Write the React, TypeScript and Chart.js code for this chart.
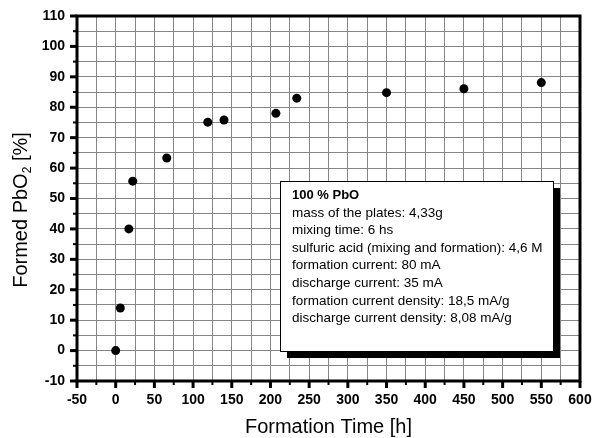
import React, { useEffect, useRef } from "react";
import { Chart, registerables } from "chart.js";

Chart.register(...registerables);

const formationTime: number[] = [0, 6, 17, 22, 66, 119, 140, 207, 234, 350, 450, 550];
const formedPbO2: number[] = [0, 14, 40, 55.7, 63.3, 75.1, 75.8, 78, 83, 84.8, 86.1, 88.1];

const xTickRange = { min: -50, max: 600, minorStep: 25, majorStep: 50 };
const yTickRange = { min: -10, max: 110, minorStep: 5, majorStep: 10 };

const xTitle = "Formation Time [h]";
const yTitleMain = "Formed PbO";
const yTitleSub = "2";
const yTitleTail = " [%]";

const legendTitle = "100 % PbO";
const legendLines: string[] = [
  "mass of the plates: 4,33g",
  "mixing time: 6 hs",
  "sulfuric acid (mixing and formation): 4,6 M",
  "formation current: 80 mA",
  "discharge current: 35 mA",
  "formation current density: 18,5 mA/g",
  "discharge current density: 8,08 mA/g",
];

const FONT = "Arial, 'Liberation Sans', Helvetica, sans-serif";

const decorPlugin = {
  id: "decor",
  afterDraw(chart: any) {
    const ctx: CanvasRenderingContext2D = chart.ctx;
    const { left, right, top, bottom } = chart.chartArea;
    const xs = chart.scales.x;
    const ys = chart.scales.y;
    ctx.save();
    ctx.strokeStyle = "#000";
    ctx.lineCap = "butt";

    // ticks
    for (let v = yTickRange.min; v <= yTickRange.max; v += yTickRange.minorStep) {
      const major = v % yTickRange.majorStep === 0;
      const py = ys.getPixelForValue(v);
      ctx.lineWidth = major ? 3 : 2;
      ctx.beginPath();
      ctx.moveTo(left - (major ? 7 : 4), py);
      ctx.lineTo(left, py);
      ctx.stroke();
    }
    for (let v = xTickRange.min; v <= xTickRange.max; v += xTickRange.minorStep) {
      const major = v % xTickRange.majorStep === 0;
      const px = xs.getPixelForValue(v);
      ctx.lineWidth = major ? 3 : 2;
      ctx.beginPath();
      ctx.moveTo(px, bottom);
      ctx.lineTo(px, bottom + (major ? 7 : 4));
      ctx.stroke();
    }

    // border
    ctx.lineWidth = 3;
    ctx.strokeRect(left, top, right - left, bottom - top);

    // x title
    ctx.fillStyle = "#000";
    ctx.font = `20px ${FONT}`;
    ctx.textAlign = "center";
    ctx.textBaseline = "alphabetic";
    ctx.fillText(xTitle, (left + right) / 2, 433);

    // y title with subscript
    ctx.save();
    ctx.translate(27, 210);
    ctx.rotate(-Math.PI / 2);
    ctx.textAlign = "left";
    ctx.font = `20px ${FONT}`;
    const w1 = ctx.measureText(yTitleMain).width;
    const w3 = ctx.measureText(yTitleTail).width;
    ctx.font = `12px ${FONT}`;
    const w2 = ctx.measureText(yTitleSub).width;
    const total = w1 + w2 + w3;
    let cx = -total / 2;
    ctx.font = `20px ${FONT}`;
    ctx.fillText(yTitleMain, cx, 0);
    cx += w1;
    ctx.font = `12px ${FONT}`;
    ctx.fillText(yTitleSub, cx, 4);
    cx += w2;
    ctx.font = `20px ${FONT}`;
    ctx.fillText(yTitleTail, cx, 0);
    ctx.restore();

    // legend box
    const bx = 280, by = 181, bw = 273, bh = 170, sh = 7;
    ctx.fillStyle = "#000";
    ctx.fillRect(bx + sh, by + sh, bw, bh);
    ctx.fillStyle = "#fff";
    ctx.fillRect(bx, by, bw, bh);
    ctx.lineWidth = 1;
    ctx.strokeStyle = "#000";
    ctx.strokeRect(bx + 0.5, by + 0.5, bw, bh);
    ctx.fillStyle = "#000";
    ctx.textAlign = "left";
    ctx.textBaseline = "alphabetic";
    ctx.font = `bold 13px ${FONT}`;
    ctx.fillText(legendTitle, 292, 199);
    ctx.font = `13.5px ${FONT}`;
    legendLines.forEach((t, i) => {
      ctx.fillText(t, 292, 199 + (i + 1) * 17.6);
    });
    ctx.restore();
  },
};

export default function App() {
  const ref = useRef<HTMLCanvasElement | null>(null);
  useEffect(() => {
    document.body.style.margin = "0";
    if (!ref.current) return;
    const chart = new Chart(ref.current, {
      type: "scatter",
      data: {
        datasets: [
          {
            label: "PbO2",
            data: formationTime.map((x, i) => ({ x, y: formedPbO2[i] })),
            backgroundColor: "#000",
            borderColor: "#000",
            pointRadius: 4.5,
            pointHoverRadius: 4.5,
            borderWidth: 0,
          },
        ],
      },
      options: {
        responsive: false,
        animation: false,
        maintainAspectRatio: false,
        layout: { padding: { left: 0, top: 16, right: 14, bottom: 0 } },
        plugins: { legend: { display: false }, tooltip: { enabled: false } },
        scales: {
          x: {
            type: "linear",
            min: xTickRange.min,
            max: xTickRange.max,
            afterFit: (s: any) => {
              s.height = 57;
              s.paddingLeft = 0;
              s.paddingRight = 0;
            },
            border: { display: false },
            grid: { color: "#858585", lineWidth: 1, drawTicks: false },
            ticks: {
              stepSize: xTickRange.minorStep,
              autoSkip: false,
              maxRotation: 0,
              padding: 11,
              color: "#000",
              font: { family: FONT, size: 14, weight: "bold" },
              callback: (v: any) => (Number(v) % xTickRange.majorStep === 0 ? String(v) : ""),
            },
          },
          y: {
            type: "linear",
            min: yTickRange.min,
            max: yTickRange.max,
            afterFit: (s: any) => {
              s.width = 77;
              s.paddingTop = 0;
              s.paddingBottom = 0;
            },
            border: { display: false },
            grid: { color: "#858585", lineWidth: 1, drawTicks: false },
            ticks: {
              stepSize: yTickRange.minorStep,
              autoSkip: false,
              padding: 12,
              color: "#000",
              font: { family: FONT, size: 14, weight: "bold" },
              callback: (v: any) => (Number(v) % yTickRange.majorStep === 0 ? String(v) : ""),
            },
          },
        },
      },
      plugins: [decorPlugin],
    });
    return () => chart.destroy();
  }, []);
  return (
    <div style={{ width: 594, height: 438 }}>
      <canvas ref={ref} width={594} height={438} style={{ display: "block" }} />
    </div>
  );
}
